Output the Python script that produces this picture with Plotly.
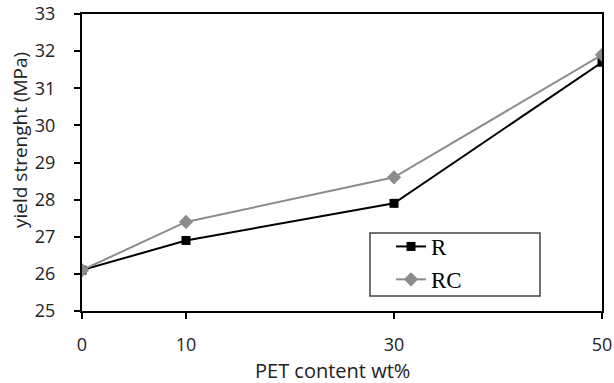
import plotly.graph_objects as go

pet = [0, 10, 30, 50]
r_vals = [26.1, 26.9, 27.9, 31.7]
rc_vals = [26.1, 27.4, 28.6, 31.9]
x_ticks = [0, 10, 30, 50]
y_ticks = [25, 26, 27, 28, 29, 30, 31, 32, 33]

fig = go.Figure()
fig.add_trace(go.Scatter(x=pet, y=r_vals, name="R", mode="lines+markers",
                         line=dict(color="black", width=2),
                         marker=dict(symbol="square", size=9, color="black"),
                         legendgroup="a"))
fig.add_trace(go.Scatter(x=pet, y=rc_vals, name="RC", mode="lines+markers",
                         line=dict(color="#8c8c8c", width=2),
                         marker=dict(symbol="diamond", size=11, color="#8c8c8c"),
                         legendgroup="b"))

tick_font = dict(family="Open Sans", size=18, color="#222")
L, R, T, B = 82, 12, 14, 72
PW, PH = 614 - L - R, 383 - T - B


def px(x):
    return (x - L) / PW


def py(y):
    return (383 - B - y) / PH


fig.update_layout(
    width=614, height=383,
    margin=dict(l=L, r=R, t=T, b=B, autoexpand=False),
    plot_bgcolor="white", paper_bgcolor="white",
    showlegend=True,
    legend=dict(x=px(391), y=py(225), xanchor="left", yanchor="top",
                bgcolor="rgba(0,0,0,0)", borderwidth=0,
                font=dict(family="Liberation Serif", size=23, color="black"),
                traceorder="grouped", tracegroupgap=0),
    xaxis=dict(range=[0, 50], tickvals=x_ticks, ticktext=[str(v) for v in x_ticks],
               showline=True, linecolor="black", linewidth=2, mirror=True,
               ticks="outside", ticklen=6, tickwidth=2, tickcolor="black",
               ticklabelstandoff=10,
               showgrid=False, zeroline=False, tickfont=tick_font, automargin=False),
    yaxis=dict(range=[25, 33], tickvals=y_ticks,
               showline=True, linecolor="black", linewidth=2, mirror=True,
               ticks="outside", ticklen=6, tickwidth=2, tickcolor="black",
               ticklabelstandoff=15,
               showgrid=False, zeroline=False, tickfont=tick_font, automargin=False),
    shapes=[dict(type="rect", xref="paper", yref="paper",
                 x0=px(370), x1=px(540), y0=py(296), y1=py(233),
                 line=dict(color="#444", width=1.5), fillcolor="white", layer="below")],
    annotations=[
        dict(text="PET content wt%", xref="paper", yref="paper",
             x=px(332), y=py(370), xanchor="center", yanchor="middle",
             showarrow=False, font=dict(family="Open Sans", size=20, color="#222")),
        dict(text="yield strenght (MPa)", xref="paper", yref="paper",
             x=px(20), y=py(140), xanchor="center", yanchor="middle", textangle=-90,
             showarrow=False, font=dict(family="Open Sans", size=19, color="#222")),
    ],
)
fig.write_html("out.html")
